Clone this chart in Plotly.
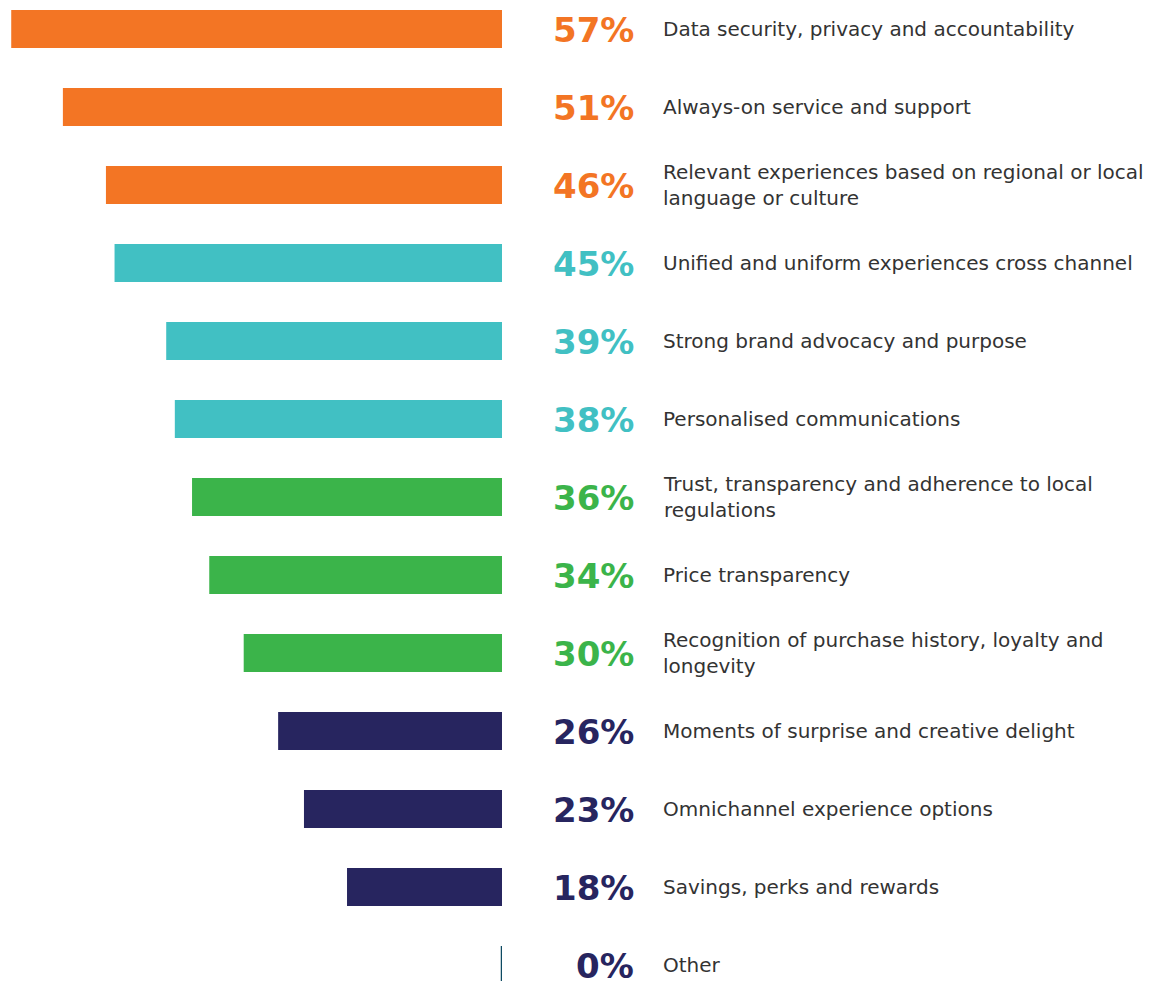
import plotly.graph_objects as go

categories = [
    "Data security, privacy and accountability",
    "Always-on service and support",
    "Relevant experiences based on regional or local<br>language or culture",
    "Unified and uniform experiences cross channel",
    "Strong brand advocacy and purpose",
    "Personalised communications",
    "Trust, transparency and adherence to local<br>regulations",
    "Price transparency",
    "Recognition of purchase history, loyalty and<br>longevity",
    "Moments of surprise and creative delight",
    "Omnichannel experience options",
    "Savings, perks and rewards",
    "Other",
]
values = [57, 51, 46, 45, 39, 38, 36, 34, 30, 26, 23, 18, 0]
groups = ["orange"] * 3 + ["teal"] * 3 + ["green"] * 3 + ["navy"] * 4

palette = {
    "orange": "#F37524",
    "teal": "#41C0C3",
    "green": "#3BB44A",
    "navy": "#27255F",
}
zero_color = "#0E4A62"

# page body has an 8px margin
W, H = 1155, 973
plot_right = 494
px_per_pct = 8.61
row_px = 78.0
first_center = 21.0
n = len(values)

colors = [palette[g] for g in groups]
idx = list(range(n))

fig = go.Figure()
fig.add_trace(go.Bar(
    x=values,
    y=idx,
    orientation="h",
    marker=dict(color=colors, line=dict(width=0)),
    width=0.49,
    hoverinfo="skip",
))

for i, (v, c, g) in enumerate(zip(values, categories, groups)):
    fig.add_annotation(
        x=0, y=i, xref="x", yref="y",
        text=f"<b>{v}%</b>",
        xanchor="right", yanchor="middle",
        xshift=134, yshift=-1, showarrow=False,
        font=dict(family="DejaVu Sans", size=34, color=palette[g]),
    )
    fig.add_annotation(
        x=0, y=i, xref="x", yref="y",
        text=c,
        xanchor="left", yanchor="middle", align="left",
        xshift=159, showarrow=False,
        font=dict(family="DejaVu Sans", size=20, color="#333333"),
    )
    if v == 0:
        fig.add_shape(
            type="line", xref="x", yref="y",
            x0=0, x1=0, y0=i - 0.245, y1=i + 0.245,
            line=dict(color=zero_color, width=2.5),
        )

x_max = plot_right / px_per_pct
y_top = -first_center / row_px
y_bot = (n - 1) + (H - (first_center + (n - 1) * row_px)) / row_px

fig.update_layout(
    width=W, height=H,
    margin=dict(l=0, r=W - plot_right, t=0, b=0),
    paper_bgcolor="white",
    plot_bgcolor="white",
    showlegend=False,
    xaxis=dict(range=[x_max, 0], visible=False, fixedrange=True),
    yaxis=dict(range=[y_bot, y_top], visible=False, fixedrange=True),
)

fig.write_html("out.html")
